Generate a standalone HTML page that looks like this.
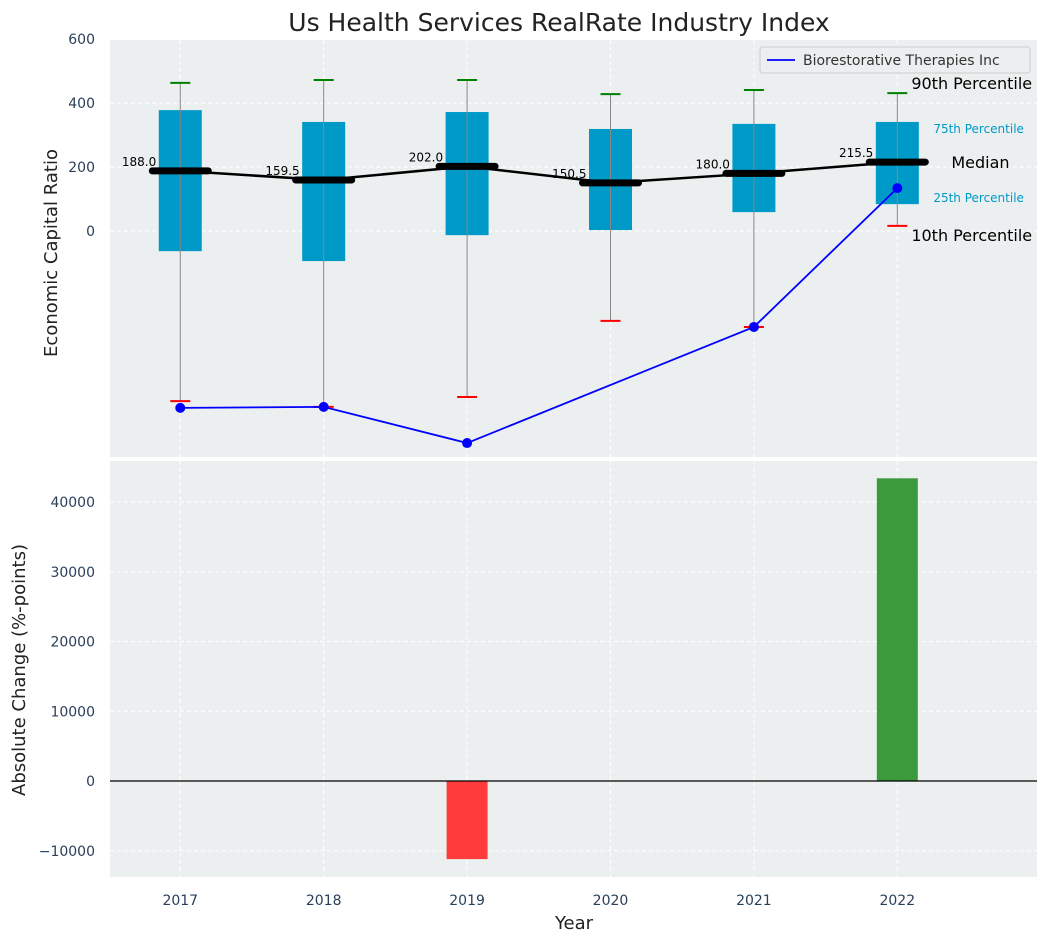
<!DOCTYPE html>
<html><head><meta charset="utf-8"><style>
body{margin:0;background:#fff;font-family:"Liberation Sans","DejaVu Sans",sans-serif}
svg text{font-family:"DejaVu Sans","Liberation Sans",sans-serif}
</style></head><body>
<svg id="c" width="1048" height="942" xmlns="http://www.w3.org/2000/svg"></svg>
<script>
const years=[2017,2018,2019,2020,2021,2022];
const p90=[463,472,472,428,441,431];
const p75=[378,341,372,319,335,341];
const medians=[188.0,159.5,202.0,150.5,180.0,215.5];
const p25=[-63,-94,-13,3,59,84];
const p10=[-532,-550,-519,-281,-300,16];
const company=[-553,-550,-663,null,-300,134];
const changes=[0,0,-11200,0,0,43400];
const topTicks=[0,200,400,600];
const botTicks=[-10000,0,10000,20000,30000,40000];

const S=document.getElementById('c');const NS='http://www.w3.org/2000/svg';
function el(t,a,txt,parent){const e=document.createElementNS(NS,t);for(const k in a)e.setAttribute(k,a[k]);if(txt!==undefined)e.textContent=txt;(parent||S).appendChild(e);return e;}
const X0=110,X1=1037;
const xs=y=>X0+(y-2016.51)/(2022.974-2016.51)*(X1-X0);
const yT=v=>231-v*0.3198;
const yB=v=>781-v*(279/40000);
let g=el('rect',{x:X0,y:40,width:X1-X0,height:417,fill:'#ebeff0'});

g=el('rect',{x:X0,y:461,width:X1-X0,height:416,fill:'#ebeff0'});

years.forEach(y=>{el('line',{x1:xs(y),x2:xs(y),y1:40,y2:457,stroke:'#fff','stroke-dasharray':'4,3'});el('line',{x1:xs(y),x2:xs(y),y1:461,y2:877,stroke:'#fff','stroke-dasharray':'4,3'});
 const t=el('text',{x:xs(y),y:905,'text-anchor':'middle','font-size':14,fill:'#2a3f5a'},y);});
topTicks.forEach(v=>{el('line',{x1:X0,x2:X1,y1:yT(v),y2:yT(v),stroke:'#fff','stroke-dasharray':'4,3'});
 const t=el('text',{x:95,y:yT(v)+5,'text-anchor':'end','font-size':14,fill:'#2a3f5a'},v);});
botTicks.forEach(v=>{el('line',{x1:X0,x2:X1,y1:yB(v),y2:yB(v),stroke:'#fff','stroke-dasharray':'4,3'});
 const t=el('text',{x:95,y:yB(v)+5,'text-anchor':'end','font-size':14,fill:'#2a3f5a'},v<0?'\u2212'+Math.abs(v):v);});
years.forEach((y,i)=>{const x=xs(y);
 let b=el('rect',{x:x-21.5,y:yT(p75[i]),width:43,height:yT(p25[i])-yT(p75[i]),fill:'#009ac9'});
 
 el('line',{x1:x,x2:x,y1:yT(p90[i]),y2:yT(p10[i]),stroke:'#888','stroke-width':1});
 el('line',{x1:x-10,x2:x+10,y1:yT(p90[i]),y2:yT(p90[i]),stroke:'green','stroke-width':2});
 el('line',{x1:x-10,x2:x+10,y1:yT(p10[i]),y2:yT(p10[i]),stroke:'red','stroke-width':2});
});
let mp=years.map((y,i)=>xs(y)+','+yT(medians[i])).join(' ');
g=el('polyline',{points:mp,fill:'none',stroke:'#000','stroke-width':2.5});
years.forEach((y,i)=>{const x=xs(y);
 el('line',{x1:x-28,x2:x+28,y1:yT(medians[i]),y2:yT(medians[i]),stroke:'#000','stroke-width':7,'stroke-linecap':'round'});
 const t=el('text',{x:x-24,y:yT(medians[i])-5,'text-anchor':'end','font-size':12,fill:'#000'},medians[i].toFixed(1));});
let cur=[];company.forEach((v,i)=>{if(v!==null)cur.push(xs(years[i])+','+yT(v));});
g=el('polyline',{points:cur.join(' '),fill:'none',stroke:'#0000ff','stroke-width':1.8});
company.forEach((v,i)=>{if(v!==null){const c=el('circle',{cx:xs(years[i]),cy:yT(v),r:5,fill:'#0000ff'});}});
const ax=xs(2022);
function ann(txt,x,y,fs,col,name){const t=el('text',{x:x,y:y,'font-size':fs,fill:col},txt);}
ann('90th Percentile',ax+14,yT(p90[5])-4,16,'#000','p90-annotation');
ann('75th Percentile',ax+36,yT(p75[5])+11,12,'#009ac9','p75-annotation');
ann('Median',ax+54,yT(medians[5])+6,16,'#000','median-annotation');
ann('25th Percentile',ax+36,yT(p25[5])-2,12,'#009ac9','p25-annotation');
ann('10th Percentile',ax+14,yT(p10[5])+15,16,'#000','p10-annotation');
g=el('rect',{x:760,y:47,width:270,height:26,fill:'#ebeff0',stroke:'#ccc',rx:3});
el('line',{x1:767,x2:795,y1:60,y2:60,stroke:'#0000ff','stroke-width':1.8});
ann('Biorestorative Therapies Inc',803,65,14,'#333','legend-entry');
years.forEach((y,i)=>{const v=changes[i];if(!v)return;const b=el('rect',{x:xs(y)-20.5,y:Math.min(yB(v),yB(0)),width:41,height:Math.abs(yB(v)-yB(0)),fill:v>0?'#3c9a3c':'#ff3c3c'});});
el('line',{x1:X0,x2:X1,y1:yB(0),y2:yB(0),stroke:'#000','stroke-width':1.2});
let t=el('text',{x:559,y:31,'text-anchor':'middle','font-size':25,fill:'#222'},'Us Health Services RealRate Industry Index');
t=el('text',{x:0,y:0,'text-anchor':'middle','font-size':18,fill:'#222',transform:'translate(57,253) rotate(-90)'},'Economic Capital Ratio');
t=el('text',{x:0,y:0,'text-anchor':'middle','font-size':18,fill:'#222',transform:'translate(25,670) rotate(-90)'},'Absolute Change (%-points)');
t=el('text',{x:574,y:929,'text-anchor':'middle','font-size':18,fill:'#222'},'Year');
</script></body></html>
